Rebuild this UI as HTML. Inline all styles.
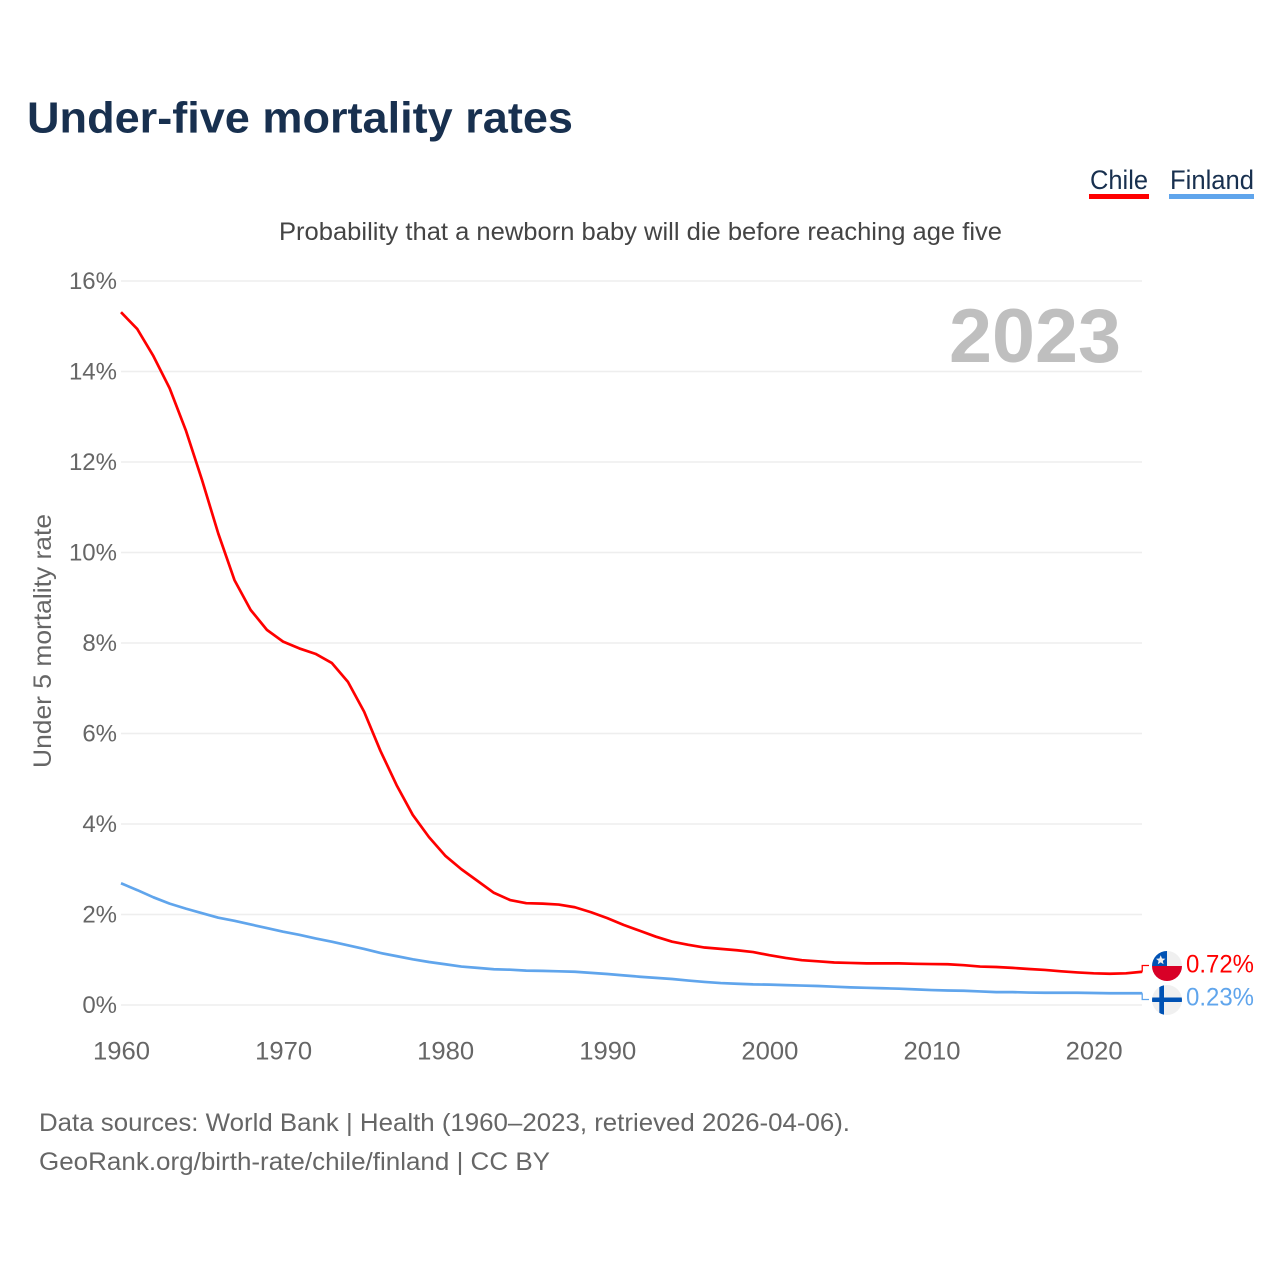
<!DOCTYPE html>
<html lang="en">
<head>
<meta charset="utf-8">
<title>Under-five mortality rates</title>
<style>
html,body{margin:0;padding:0;background:#fff;width:1280px;height:1280px;overflow:hidden}
svg{display:block;font-family:"Liberation Sans",sans-serif}
</style>
</head>
<body>
<svg id="chart" xmlns="http://www.w3.org/2000/svg" width="1280" height="1280" viewBox="0 0 1280 1280">
  <defs>
    <clipPath id="clip-chile"><circle cx="1167" cy="966" r="15"/></clipPath>
    <clipPath id="clip-finland"><circle cx="1167" cy="1000" r="15"/></clipPath>
  </defs>
  <rect width="1280" height="1280" fill="#fff"/>

  <text x="27" y="132.5" font-size="44" font-weight="700" fill="#18304f" textLength="546" lengthAdjust="spacingAndGlyphs">Under-five mortality rates</text>

  <g>
    <g>
      <text x="1090" y="189" font-size="27" fill="#18304f" textLength="58" lengthAdjust="spacingAndGlyphs">Chile</text>
      <rect x="1089" y="194" width="60" height="5" fill="#ff0000"/>
    </g>
    <g>
      <text x="1170" y="189" font-size="27" fill="#18304f" textLength="84" lengthAdjust="spacingAndGlyphs">Finland</text>
      <rect x="1169" y="194" width="85" height="5" fill="#60a5ec"/>
    </g>
  </g>

  <text x="279" y="240" font-size="25" fill="#444" textLength="723" lengthAdjust="spacingAndGlyphs">Probability that a newborn baby will die before reaching age five</text>

  <g id="grid"></g>
  <g id="y-ticks"></g>
  <g id="x-ticks"></g>

  <text transform="translate(51,641) rotate(-90)" text-anchor="middle" font-size="25" fill="#666" textLength="254" lengthAdjust="spacingAndGlyphs">Under 5 mortality rate</text>

  <text x="949" y="362" font-size="76" font-weight="700" fill="#bfbfbf" textLength="172" lengthAdjust="spacingAndGlyphs">2023</text>

  <g id="series"></g>

  <g clip-path="url(#clip-chile)">
    <rect x="1152" y="951" width="30" height="15" fill="#f0f0f0"/>
    <rect x="1152" y="951" width="15" height="15" fill="#0052b4"/>
    <rect x="1152" y="966" width="30" height="15" fill="#d80027"/>
    <polygon points="1160.7,955.2 1162,958.5 1165.4,958.7 1162.8,960.9 1163.6,964.2 1160.7,962.4 1157.8,964.2 1158.6,960.9 1156,958.7 1159.4,958.5" fill="#f0f0f0"/>
  </g>
  <g clip-path="url(#clip-finland)">
    <rect x="1152" y="985" width="30" height="30" fill="#f0f0f0"/>
    <rect x="1152" y="997.5" width="30" height="4.5" fill="#0052b4"/>
    <rect x="1159.3" y="985" width="4.7" height="30" fill="#0052b4"/>
  </g>

  <text x="1186" y="972.5" font-size="25" fill="#ff0000" textLength="68" lengthAdjust="spacingAndGlyphs">0.72%</text>
  <text x="1186" y="1005.5" font-size="25" fill="#60a5ec" textLength="68" lengthAdjust="spacingAndGlyphs">0.23%</text>

  <text x="39" y="1131" font-size="25" fill="#666" textLength="811" lengthAdjust="spacingAndGlyphs">Data sources: World Bank | Health (1960–2023, retrieved 2026-04-06).</text>
  <text x="39" y="1170" font-size="25" fill="#666" textLength="511" lengthAdjust="spacingAndGlyphs">GeoRank.org/birth-rate/chile/finland | CC BY</text>
</svg>
<script>
var startYear = 1960;
var chileValues = [15.31,14.94,14.34,13.63,12.70,11.60,10.42,9.39,8.73,8.29,8.03,7.88,7.76,7.56,7.14,6.48,5.62,4.86,4.20,3.71,3.30,3.00,2.74,2.48,2.32,2.25,2.24,2.22,2.16,2.05,1.92,1.77,1.64,1.51,1.40,1.33,1.27,1.24,1.21,1.17,1.10,1.04,0.99,0.965,0.94,0.93,0.92,0.92,0.92,0.91,0.905,0.90,0.88,0.85,0.84,0.82,0.795,0.775,0.745,0.72,0.70,0.69,0.70,0.735];
var finlandValues = [2.69,2.54,2.38,2.24,2.13,2.03,1.93,1.86,1.78,1.70,1.62,1.55,1.47,1.40,1.32,1.24,1.15,1.08,1.01,0.95,0.90,0.85,0.82,0.79,0.78,0.76,0.755,0.745,0.735,0.71,0.685,0.655,0.625,0.60,0.575,0.54,0.51,0.485,0.47,0.455,0.45,0.44,0.43,0.42,0.405,0.39,0.38,0.37,0.36,0.345,0.33,0.32,0.315,0.30,0.285,0.285,0.275,0.27,0.27,0.27,0.265,0.26,0.26,0.26];
var yTickValues = [0,2,4,6,8,10,12,14,16];
var xTickYears = [1960,1970,1980,1990,2000,2010,2020];

var NS = 'http://www.w3.org/2000/svg';
function xScale(year){ return 121 + (year - 1960) * 16.21; }
function yScale(v){ return 1005 - v * 45.25; }

var gridGroup = document.getElementById('grid');
var yGroup = document.getElementById('y-ticks');
var xGroup = document.getElementById('x-ticks');
var seriesGroup = document.getElementById('series');

yTickValues.forEach(function(v){
  var line = document.createElementNS(NS, 'line');
  
  
  line.setAttribute('x1', 121);
  line.setAttribute('x2', 1142);
  line.setAttribute('y1', yScale(v));
  line.setAttribute('y2', yScale(v));
  line.setAttribute('stroke', '#eeeeee');
  line.setAttribute('stroke-width', '1.5');
  gridGroup.appendChild(line);

  var label = document.createElementNS(NS, 'text');
  
  
  label.setAttribute('x', 117);
  label.setAttribute('y', yScale(v) + 8);
  label.setAttribute('text-anchor', 'end');
  label.setAttribute('font-size', '24');
  label.setAttribute('fill', '#666');
  label.textContent = v + '%';
  yGroup.appendChild(label);
});

xTickYears.forEach(function(year){
  var label = document.createElementNS(NS, 'text');
  
  
  label.setAttribute('x', xScale(year) + 0.5);
  label.setAttribute('y', 1059.5);
  label.setAttribute('text-anchor', 'middle');
  label.setAttribute('font-size', '25');
  label.setAttribute('fill', '#666');
  label.setAttribute('textLength', '57');
  label.setAttribute('lengthAdjust', 'spacingAndGlyphs');
  label.textContent = year;
  xGroup.appendChild(label);
});

function linePoints(values){
  return values.map(function(v, i){
    return xScale(startYear + i).toFixed(2) + ',' + yScale(v).toFixed(2);
  }).join(' ');
}

var chileLine = document.createElementNS(NS, 'polyline');


chileLine.setAttribute('points', linePoints(chileValues));
chileLine.setAttribute('fill', 'none');
chileLine.setAttribute('stroke', '#ff0000');
chileLine.setAttribute('stroke-width', '2.7');
chileLine.setAttribute('stroke-linejoin', 'round');
seriesGroup.appendChild(chileLine);

var finlandLine = document.createElementNS(NS, 'polyline');


finlandLine.setAttribute('points', linePoints(finlandValues));
finlandLine.setAttribute('fill', 'none');
finlandLine.setAttribute('stroke', '#60a5ec');
finlandLine.setAttribute('stroke-width', '2.7');
finlandLine.setAttribute('stroke-linejoin', 'round');
seriesGroup.appendChild(finlandLine);

function connectorPoints(values, labelY){
  var endX = xScale(startYear + values.length - 1);
  var endY = yScale(values[values.length - 1]);
  return endX + ',' + endY + ' ' + endX + ',' + labelY + ' 1149,' + labelY;
}

var chileConnector = document.createElementNS(NS, 'polyline');


chileConnector.setAttribute('points', connectorPoints(chileValues, 965.5));
chileConnector.setAttribute('fill', 'none');
chileConnector.setAttribute('stroke', '#ff0000');
chileConnector.setAttribute('stroke-width', '1.3');
seriesGroup.appendChild(chileConnector);

var finlandConnector = document.createElementNS(NS, 'polyline');


finlandConnector.setAttribute('points', connectorPoints(finlandValues, 999.5));
finlandConnector.setAttribute('fill', 'none');
finlandConnector.setAttribute('stroke', '#60a5ec');
finlandConnector.setAttribute('stroke-width', '1.3');
seriesGroup.appendChild(finlandConnector);
</script>
</body>
</html>
